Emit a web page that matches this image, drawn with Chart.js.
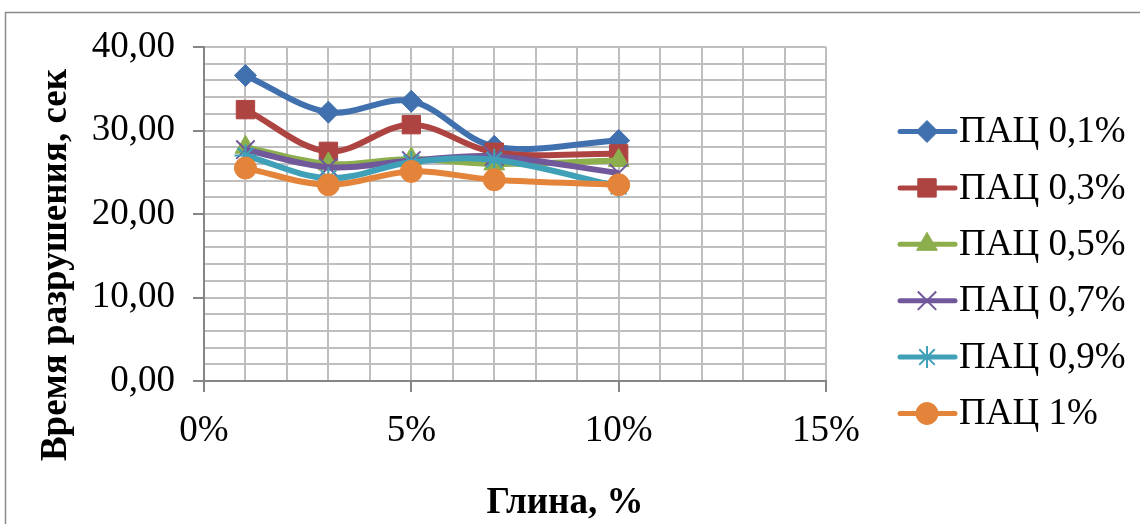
<!DOCTYPE html>
<html>
<head>
<meta charset="utf-8">
<script src="https://cdn.jsdelivr.net/npm/chart.js@4.4.1/dist/chart.umd.min.js"></script>
<style>
  html, body { margin: 0; padding: 0; background: #fff; }
  #wrap { position: relative; width: 1140px; height: 524px; }
</style>
</head>
<body>
<div id="wrap"><canvas id="c" width="1140" height="524"></canvas></div>
<script>
// Clay content, % (x axis)
const clayPercent = [1, 3, 5, 7, 10];

// Destruction time, s, for each ПАЦ concentration
const pac01 = [36.6, 32.2, 33.5, 28.1, 28.8];
const pac03 = [32.5, 27.5, 30.7, 27.4, 27.2];
const pac05 = [28.0, 26.0, 26.6, 26.0, 26.4];
const pac07 = [27.7, 25.6, 26.4, 26.9, 24.9];
const pac09 = [27.0, 24.3, 26.2, 26.5, 23.3];
const pac1  = [25.5, 23.5, 25.1, 24.1, 23.5];

const seriesNames = ['ПАЦ 0,1%', 'ПАЦ 0,3%', 'ПАЦ 0,5%', 'ПАЦ 0,7%', 'ПАЦ 0,9%', 'ПАЦ 1%'];
const seriesValues = [pac01, pac03, pac05, pac07, pac09, pac1];
const seriesColors = ['#4170AE', '#AE4441', '#8DAE4C', '#71589A', '#3FA0B8', '#E4843A'];
const seriesMarkers = ['rectRot', 'rect', 'triangle', 'crossRot', 'star', 'circle'];
const markerRadius = [11, 13, 12, 13, 11, 11];
const markerBorder = [1, 1, 1, 2, 2, 1];

const xTitle = 'Глина, %';
const yTitle = 'Время разрушения, сек';

const FONT = '"Liberation Serif", "Times New Roman", serif';

const datasets = seriesNames.map((name, i) => ({
  label: name,
  data: clayPercent.map((x, k) => ({ x: x, y: seriesValues[i][k] })),
  borderColor: seriesColors[i],
  backgroundColor: seriesColors[i],
  borderWidth: 6,
  tension: 0.35,
  pointStyle: seriesMarkers[i],
  pointRadius: markerRadius[i],
  pointHoverRadius: markerRadius[i],
  pointBorderWidth: markerBorder[i],
  pointBackgroundColor: seriesColors[i],
  pointBorderColor: seriesColors[i],
  order: -i
}));

function fallbackPoint(ctx, style, r, x, y) {
  ctx.beginPath();
  if (style === 'circle') { ctx.arc(x, y, r, 0, Math.PI * 2); ctx.fill(); }
  else if (style === 'rect') { const s = r * Math.SQRT1_2; ctx.fillRect(x - s, y - s, 2 * s, 2 * s); }
  else if (style === 'rectRot') { ctx.moveTo(x, y - r); ctx.lineTo(x + r, y); ctx.lineTo(x, y + r); ctx.lineTo(x - r, y); ctx.closePath(); ctx.fill(); }
  else if (style === 'triangle') { ctx.moveTo(x, y - r); ctx.lineTo(x + r * 0.866, y + r * 0.5); ctx.lineTo(x - r * 0.866, y + r * 0.5); ctx.closePath(); ctx.fill(); }
  else {
    const d = r * Math.SQRT1_2;
    ctx.moveTo(x - d, y - d); ctx.lineTo(x + d, y + d); ctx.moveTo(x - d, y + d); ctx.lineTo(x + d, y - d);
    if (style === 'star') { ctx.moveTo(x, y - r); ctx.lineTo(x, y + r); ctx.moveTo(x - r, y); ctx.lineTo(x + r, y); }
    ctx.stroke();
  }
}

// Axis titles, legend and outer frame
const decorations = {
  id: 'decorations',
  afterDraw(chart) {
    const ctx = chart.ctx;
    ctx.save();

    // outer frame
    ctx.strokeStyle = '#8A8A8A';
    ctx.lineWidth = 1.5;
    ctx.beginPath();
    ctx.moveTo(5.5, 600);
    ctx.lineTo(5.5, 12.5);
    ctx.lineTo(1200, 12.5);
    ctx.stroke();

    // axis titles
    ctx.fillStyle = '#000';
    ctx.font = 'bold 37px ' + FONT;
    ctx.textAlign = 'center';
    ctx.textBaseline = 'middle';
    ctx.fillText(xTitle, 565, 503);
    ctx.save();
    ctx.translate(56, 265);
    ctx.rotate(-Math.PI / 2);
    ctx.fillText(yTitle, 0, 0);
    ctx.restore();

    // legend
    chart.data.datasets.forEach((ds, i) => {
      const y = 131.5 + i * 56.4;
      ctx.strokeStyle = ds.borderColor;
      ctx.fillStyle = ds.borderColor;
      ctx.lineWidth = 5;
      ctx.lineCap = 'round';
      ctx.beginPath();
      ctx.moveTo(900, y);
      ctx.lineTo(955, y);
      ctx.stroke();
      ctx.lineCap = 'butt';
      const opts = { pointStyle: ds.pointStyle, radius: ds.pointRadius, rotation: 0, borderWidth: ds.pointBorderWidth };
      ctx.lineWidth = ds.pointBorderWidth;
      if (Chart.helpers && Chart.helpers.drawPoint) {
        Chart.helpers.drawPoint(ctx, opts, 927, y);
      } else {
        fallbackPoint(ctx, ds.pointStyle, ds.pointRadius, 927, y);
      }
      ctx.fillStyle = '#000';
      ctx.font = '37px ' + FONT;
      ctx.textAlign = 'left';
      ctx.textBaseline = 'middle';
      ctx.fillText(ds.label, 959, y + 1);
    });
    ctx.restore();
  }
};

const GRID = '#BEBEBE';
const AXIS = '#868686';

new Chart(document.getElementById('c'), {
  type: 'line',
  data: { datasets: datasets },
  options: {
    responsive: false,
    animation: false,
    events: [],
    layout: { padding: { top: 47, right: 314, bottom: 0, left: 0 } },
    plugins: { legend: { display: false }, tooltip: { enabled: false } },
    scales: {
      x: {
        type: 'linear',
        min: 0,
        max: 15,
        afterFit(scale) { scale.height = 143; },
        ticks: {
          stepSize: 1,
          autoSkip: false,
          maxRotation: 0,
          padding: 17,
          color: '#000',
          font: { family: FONT, size: 37 },
          callback: (v) => (v % 5 === 0 ? v + '%' : '')
        },
        grid: {
          color: GRID,
          lineWidth: 2,
          tickLength: 11,
          tickColor: (c) => (c.tick && c.tick.value % 5 === 0 ? AXIS : 'rgba(0,0,0,0)'),
          tickWidth: 2
        },
        border: { color: AXIS, width: 2 }
      },
      y: {
        min: 0,
        max: 40,
        afterFit(scale) { scale.width = 204; },
        ticks: {
          stepSize: 2,
          autoSkip: false,
          padding: 18,
          color: '#000',
          font: { family: FONT, size: 37 },
          callback: (v) => (v % 10 === 0 ? v.toFixed(2).replace('.', ',') : '')
        },
        grid: {
          color: GRID,
          lineWidth: 2,
          tickLength: 11,
          tickColor: (c) => (c.tick && c.tick.value % 10 === 0 ? AXIS : 'rgba(0,0,0,0)'),
          tickWidth: 2
        },
        border: { color: AXIS, width: 2 }
      }
    }
  },
  plugins: [decorations]
});
</script>
</body>
</html>
